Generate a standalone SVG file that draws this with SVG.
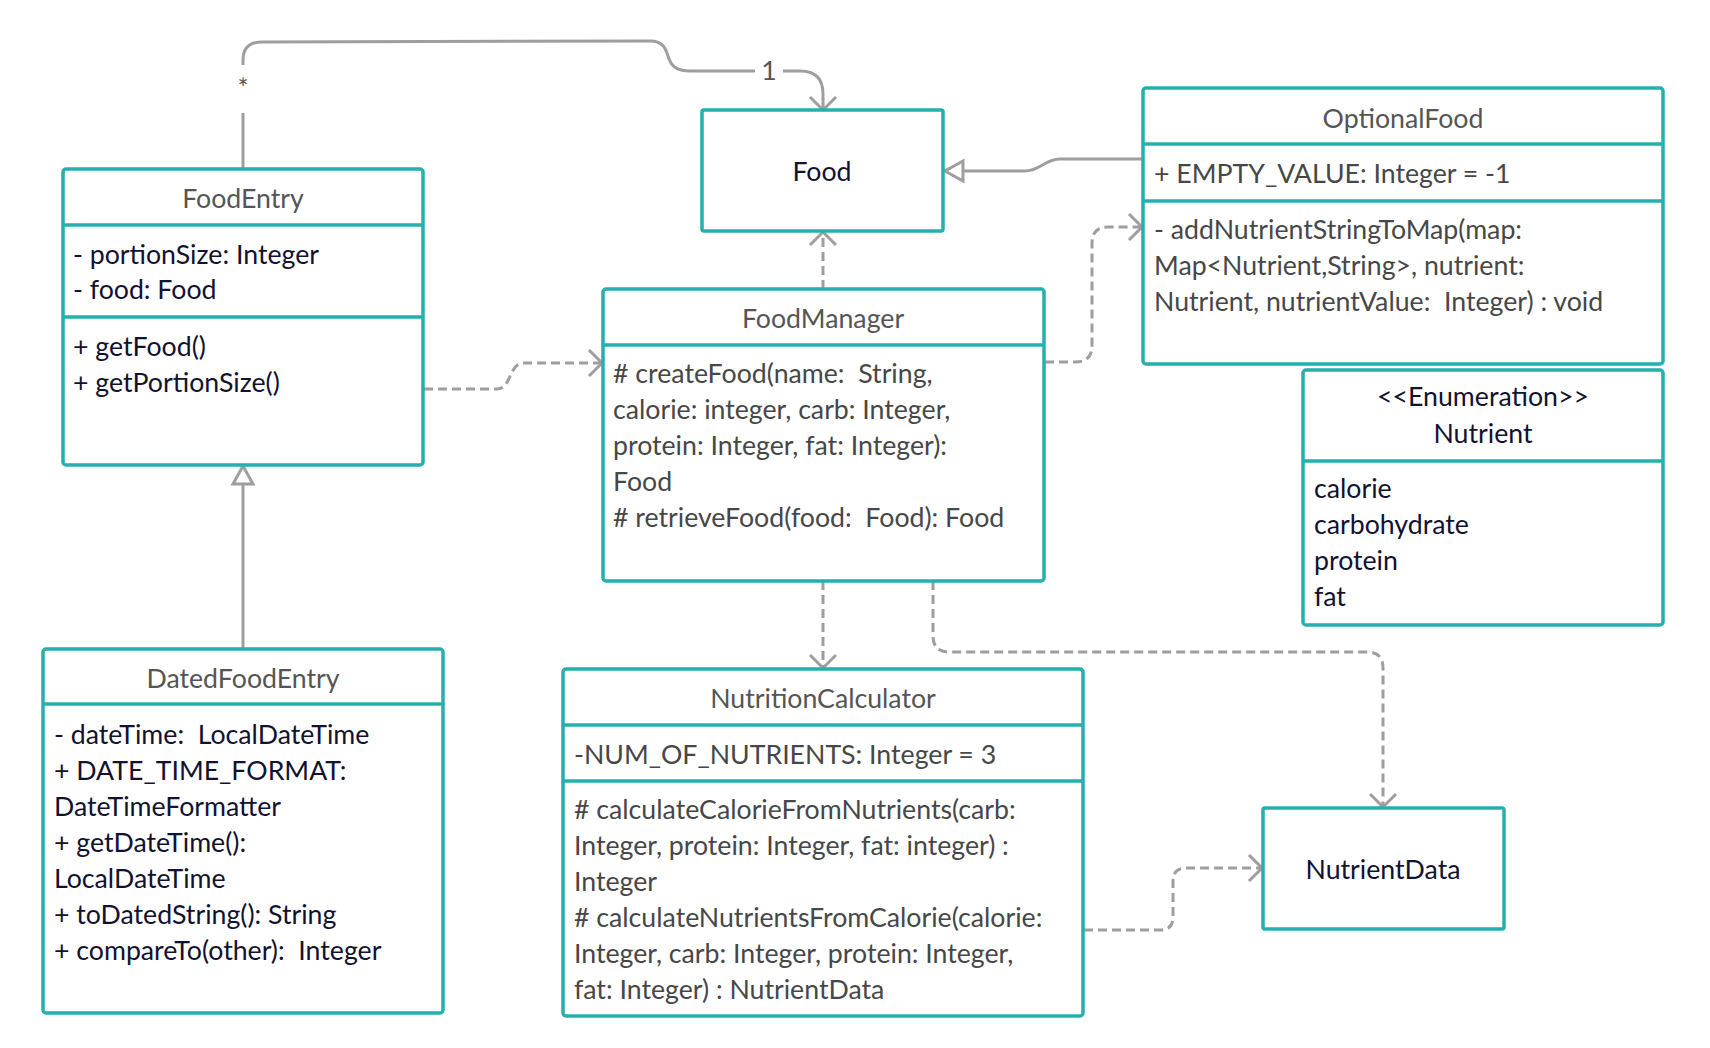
<svg xmlns="http://www.w3.org/2000/svg" width="1710" height="1048" viewBox="0 0 1710 1048">
<style>
.box{fill:#fff;stroke:#25b0ad;stroke-width:3.5}
.div{stroke:#25b0ad;stroke-width:3.5}
text{font-family:Lato,"Liberation Sans",sans-serif;font-size:26.7px;white-space:pre}
.t{fill:#555;text-anchor:middle}
.g{fill:#474747}
.d{fill:#121230}
.c{text-anchor:middle}
.ln{fill:none;stroke:#9e9e9e;stroke-width:3}
.ds{stroke-dasharray:9 5}
.lbl{fill:#555}
</style>
<defs>
<marker id="open" markerUnits="userSpaceOnUse" markerWidth="40" markerHeight="40" viewBox="-20 -20 40 40" refX="0" refY="0" orient="auto">
<path d="M-13,-13 L0,0 L-13,13" fill="none" stroke="#9e9e9e" stroke-width="3"/>
</marker>
<marker id="tri" markerUnits="userSpaceOnUse" markerWidth="40" markerHeight="40" viewBox="-30 -20 40 40" refX="0" refY="0" orient="auto">
<path d="M0,0 L-18,-10 L-18,10 Z" fill="#fff" stroke="#9e9e9e" stroke-width="3"/>
</marker>
</defs>
<rect width="1710" height="1048" fill="#fff"/>
<g id="connectors">
<path class="ln" d="M243,169 V113"/>
<text class="lbl c" x="243" y="98" style="font-size:26px">*</text>
<path class="ln" d="M243,65 L243,60 Q243,42 262,42 L650,41 C664,41 666,50 668,56 C671,66 676,71 690,71 L755,71"/>
<text class="lbl c" x="769" y="80">1</text>
<path class="ln" d="M783,71 L800,71 Q823,71 823,94 L823,110" marker-end="url(#open)"/>
<path class="ln" d="M1143,159 L1060,159 C1045,159 1040,171 1025,171 L945,171" marker-end="url(#tri)"/>
<path class="ln" d="M243,649 L243,466" marker-end="url(#tri)"/>
<path class="ln ds" d="M823,289 L823,232" marker-end="url(#open)"/>
<path class="ln ds" d="M424,389 L497,389 C512,389 508,363 524,363 L602,363" marker-end="url(#open)"/>
<path class="ln ds" d="M1045,362 L1075,362 Q1092,362 1092,346 L1092,243 Q1092,227 1108,227 L1142,227" marker-end="url(#open)"/>
<path class="ln ds" d="M823,581 L823,668" marker-end="url(#open)"/>
<path class="ln ds" d="M933,581 L933,636 Q933,652 949,652 L1367,652 Q1383,652 1383,668 L1383,807" marker-end="url(#open)"/>
<path class="ln ds" d="M1084,930 L1160,930 Q1173,930 1173,917 L1173,881 Q1173,868 1186,868 L1262,868" marker-end="url(#open)"/>
</g>
<g id="FoodEntry">
<rect class="box" x="63" y="169" width="360" height="296" rx="3"/>
<line class="div" x1="63" y1="225" x2="423" y2="225"/>
<line class="div" x1="63" y1="317" x2="423" y2="317"/>
<text class="t" x="243" y="208">FoodEntry</text>
<text class="d" x="73" y="264">- portionSize: Integer</text>
<text class="d" x="73" y="299">- food: Food</text>
<text class="d" x="73" y="356">+ getFood()</text>
<text class="d" x="73" y="392">+ getPortionSize()</text>
</g>
<g id="Food">
<rect class="box" x="702" y="110" width="241" height="121" rx="2"/>
<text class="d c" x="822" y="181">Food</text>
</g>
<g id="OptionalFood">
<rect class="box" x="1143" y="88" width="520" height="276" rx="3"/>
<line class="div" x1="1143" y1="144" x2="1663" y2="144"/>
<line class="div" x1="1143" y1="201" x2="1663" y2="201"/>
<text class="t" x="1403" y="128">OptionalFood</text>
<text class="g" x="1154" y="183">+ EMPTY_VALUE: Integer = -1</text>
<text class="g" x="1154" y="239">- addNutrientStringToMap(map:</text>
<text class="g" x="1154" y="275">Map&lt;Nutrient,String&gt;, nutrient:</text>
<text class="g" x="1154" y="311">Nutrient, nutrientValue:  Integer) : void</text>
</g>
<g id="Nutrient">
<rect class="box" x="1303" y="370" width="360" height="255" rx="3"/>
<line class="div" x1="1303" y1="461" x2="1663" y2="461"/>
<text class="d c" x="1483" y="406">&lt;&lt;Enumeration&gt;&gt;</text>
<text class="d c" x="1483" y="443">Nutrient</text>
<text class="d" x="1314" y="498">calorie</text>
<text class="d" x="1314" y="534">carbohydrate</text>
<text class="d" x="1314" y="570">protein</text>
<text class="d" x="1314" y="606">fat</text>
</g>
<g id="FoodManager">
<rect class="box" x="603" y="289" width="441" height="292" rx="3"/>
<line class="div" x1="603" y1="345" x2="1044" y2="345"/>
<text class="t" x="823" y="328">FoodManager</text>
<text class="g" x="613" y="383"># createFood(name:  String,</text>
<text class="g" x="613" y="419">calorie: integer, carb: Integer,</text>
<text class="g" x="613" y="455">protein: Integer, fat: Integer):</text>
<text class="g" x="613" y="491">Food</text>
<text class="g" x="613" y="527"># retrieveFood(food:  Food): Food</text>
</g>
<g id="DatedFoodEntry">
<rect class="box" x="43" y="649" width="400" height="364" rx="3"/>
<line class="div" x1="43" y1="704" x2="443" y2="704"/>
<text class="t" x="243" y="688">DatedFoodEntry</text>
<text class="d" x="54" y="744">- dateTime:  LocalDateTime</text>
<text class="d" x="54" y="780">+ DATE_TIME_FORMAT:</text>
<text class="d" x="54" y="816">DateTimeFormatter</text>
<text class="d" x="54" y="852">+ getDateTime():</text>
<text class="d" x="54" y="888">LocalDateTime</text>
<text class="d" x="54" y="924">+ toDatedString(): String</text>
<text class="d" x="54" y="960">+ compareTo(other):  Integer</text>
</g>
<g id="NutritionCalculator">
<rect class="box" x="563" y="669" width="520" height="347" rx="3"/>
<line class="div" x1="563" y1="725" x2="1083" y2="725"/>
<line class="div" x1="563" y1="781" x2="1083" y2="781"/>
<text class="t" x="823" y="708">NutritionCalculator</text>
<text class="g" x="574" y="764">-NUM_OF_NUTRIENTS: Integer = 3</text>
<text class="g" x="574" y="819"># calculateCalorieFromNutrients(carb:</text>
<text class="g" x="574" y="855">Integer, protein: Integer, fat: integer) :</text>
<text class="g" x="574" y="891">Integer</text>
<text class="g" x="574" y="927"># calculateNutrientsFromCalorie(calorie:</text>
<text class="g" x="574" y="963">Integer, carb: Integer, protein: Integer,</text>
<text class="g" x="574" y="999">fat: Integer) : NutrientData</text>
</g>
<g id="NutrientData">
<rect class="box" x="1263" y="808" width="241" height="121" rx="2"/>
<text class="d c" x="1383" y="879">NutrientData</text>
</g>
</svg>
